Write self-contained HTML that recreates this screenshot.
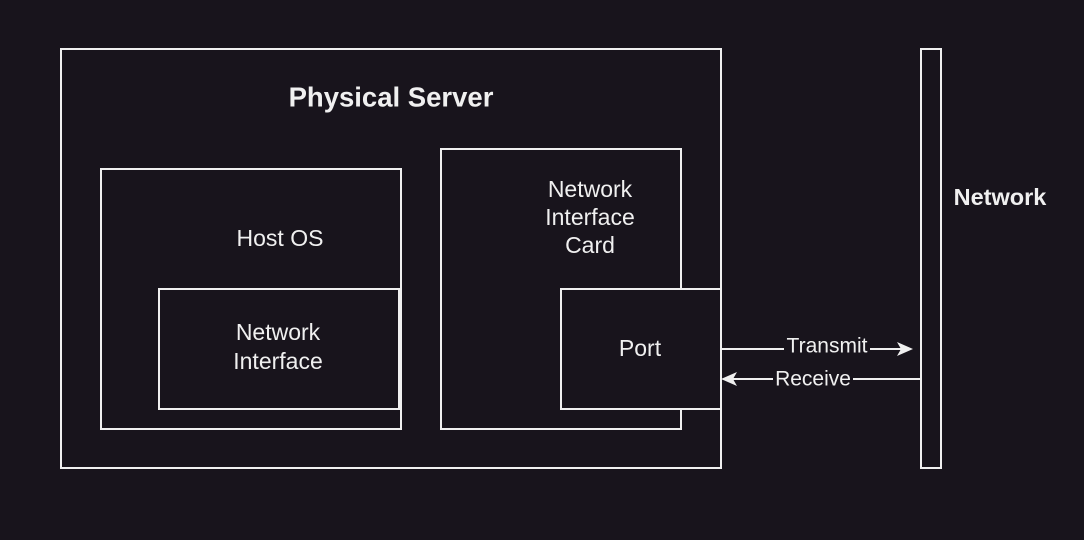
<!DOCTYPE html>
<html><head><style>
body{margin:0;background:#18141c;}
svg{display:block}
text{font-family:"Liberation Sans",Arial,sans-serif;fill:#f0f0f0;text-anchor:middle;dominant-baseline:central}
</style></head><body>
<svg width="1084" height="540" viewBox="0 0 1084 540">
<rect width="1084" height="540" fill="#18141c"/>
<g fill="none" stroke="#f0f0f0" stroke-width="2">
<rect x="61" y="49" width="660" height="419"/>
<rect x="101" y="169" width="300" height="260"/>
<rect x="159" y="289" width="240" height="120"/>
<rect x="441" y="149" width="240" height="280"/>
<rect x="561" y="289" width="160" height="120" fill="#18141c"/>
<rect x="921" y="49" width="20" height="419"/>
<line x1="721" y1="349" x2="784" y2="349"/>
<line x1="870" y1="349" x2="902" y2="349"/>
<line x1="921" y1="379" x2="853" y2="379"/>
<line x1="773" y1="379" x2="732" y2="379"/>
</g>
<path d="M913,349 L897,342 L901,349 L897,356 Z" fill="#f0f0f0"/>
<path d="M721,379 L737,372 L733,379 L737,386 Z" fill="#f0f0f0"/>
<text x="391" y="97" font-size="27.5" font-weight="bold">Physical Server</text>
<text x="280" y="238" font-size="23">Host OS</text>
<text x="278" y="332" font-size="23">Network</text>
<text x="278" y="361" font-size="23">Interface</text>
<text x="590" y="189" font-size="23">Network</text>
<text x="590" y="217" font-size="23">Interface</text>
<text x="590" y="245" font-size="23">Card</text>
<text x="640" y="348" font-size="23">Port</text>
<text x="827" y="346" font-size="21">Transmit</text>
<text x="813" y="379" font-size="21">Receive</text>
<text x="1000" y="197" font-size="23.5" font-weight="bold">Network</text>
</svg>
</body></html>
